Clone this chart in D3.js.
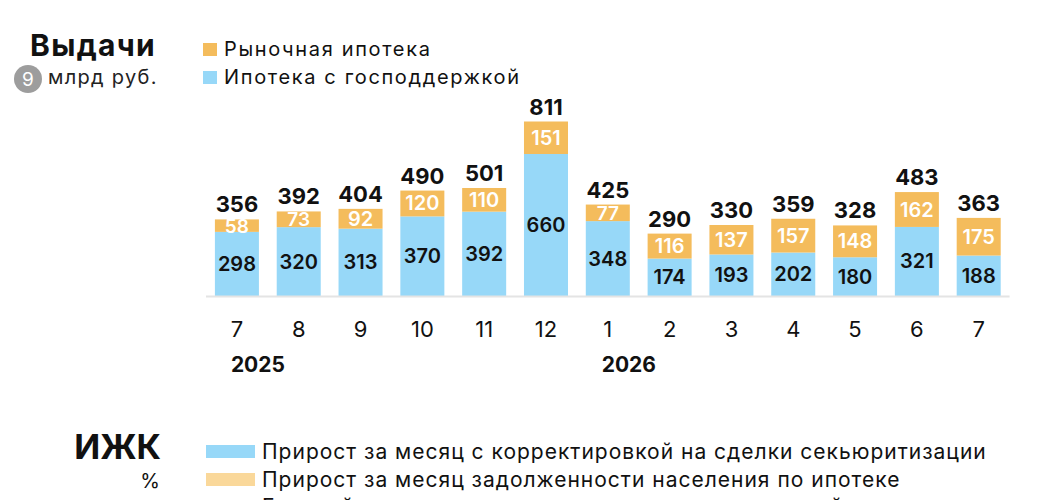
<!DOCTYPE html>
<html>
<head>
<meta charset="utf-8">
<script src="https://cdn.jsdelivr.net/npm/d3@7"></script>
<style>
  body { margin: 0; background: #fff; }
  svg { font-family: Inter, "Noto Sans", sans-serif; }
</style>
</head>
<body>
<div class="viz"></div>
<script>
// months of the issuance chart (Jul 2025 - Jul 2026)
const months = ["7", "8", "9", "10", "11", "12", "1", "2", "3", "4", "5", "6", "7"];
const years = [{ label: "2025", at: 0 }, { label: "2026", at: 6 }];
const subsidized = [298, 320, 313, 370, 392, 660, 348, 174, 193, 202, 180, 321, 188]; // ипотека с господдержкой
const market = [58, 73, 92, 120, 110, 151, 77, 116, 137, 157, 148, 162, 175];         // рыночная ипотека
const totals = [356, 392, 404, 490, 501, 811, 425, 290, 330, 359, 328, 483, 363];

const blue = "#97d8f8";
const orange = "#f4bc5c";
const lightOrange = "#fad89a";

const width = 1050, height = 500;
const baseY = 296;

const svg = d3.select(".viz").append("svg")
  .attr("width", width)
  .attr("height", height);

const keys = months.map((m, i) => i); // months repeat ("7"), so index is the key
const rows = keys.map(i => ({ i, subsidized: subsidized[i], market: market[i] }));
const series = d3.stack().keys(["subsidized", "market"])(rows);

const x = d3.scaleBand()
  .domain(keys)
  .range([206, 1009.6])
  .paddingInner(0.288)
  .paddingOuter(0.144);

const y = d3.scaleLinear()
  .domain([0, d3.max(totals)])
  .range([baseY, 121.5]);

const colors = { subsidized: blue, market: orange };

// bars
svg.append("g").attr("class", "bars")
  .selectAll("g")
  .data(series)
  .join("g")
  .attr("fill", s => colors[s.key])
  .selectAll("rect")
  .data(s => s)
  .join("rect")
  .attr("x", d => x(d.data.i))
  .attr("y", d => y(d[1]))
  .attr("width", x.bandwidth())
  .attr("height", d => y(d[0]) - y(d[1]));

// baseline
svg.append("line")
  .attr("x1", x.range()[0]).attr("x2", x.range()[1])
  .attr("y1", baseY + 0.5).attr("y2", baseY + 0.5)
  .attr("stroke", "#e4e4e4").attr("stroke-width", 2);

// value labels inside segments
svg.append("g").attr("class", "seg-labels")
  .selectAll("g")
  .data(series)
  .join("g")
  .attr("fill", s => s.key === "market" ? "#fff" : "#111")
  .selectAll("text")
  .data(s => s)
  .join("text")
  .attr("x", d => x(d.data.i) + x.bandwidth() / 2)
  .attr("y", d => (y(d[0]) + y(d[1])) / 2 + 7)
  .attr("text-anchor", "middle")
  .attr("font-size", d => d[1] - d[0] < 80 ? 19 : 20)
  .attr("font-weight", 600)
  .text(d => d[1] - d[0]);

// totals on top
svg.append("g").attr("class", "totals")
  .selectAll("text")
  .data(keys)
  .join("text")
  .attr("x", i => x(i) + x.bandwidth() / 2)
  .attr("y", i => y(subsidized[i] + market[i]) - 7)
  .attr("text-anchor", "middle")
  .attr("font-size", 22)
  .attr("font-weight", 700)
  .attr("fill", "#111")
  .text(i => totals[i]);

// month axis
const xAxis = svg.append("g")
  .attr("transform", `translate(0, ${baseY})`)
  .call(d3.axisBottom(x).tickSize(0).tickPadding(25).tickFormat(i => months[i]));
xAxis.select(".domain").remove();
xAxis.selectAll("text")
  .attr("font-size", 22)
  .attr("font-family", "Inter, sans-serif")
  .attr("fill", "#111");

// years
svg.append("g").selectAll("text")
  .data(years)
  .join("text")
  .attr("x", d => x(d.at) + x.bandwidth() / 2 + 21)
  .attr("y", 372)
  .attr("text-anchor", "middle")
  .attr("font-size", 21)
  .attr("font-weight", 700)
  .attr("fill", "#111")
  .text(d => d.label);

// title block
svg.append("text")
  .attr("x", 30).attr("y", 56)
  .attr("font-size", 30).attr("font-weight", 700).attr("fill", "#111")
  .attr("letter-spacing", 1.3)
  .text("Выдачи");
svg.append("circle").attr("cx", 28).attr("cy", 79).attr("r", 14).attr("fill", "#9d9d9d");
svg.append("text")
  .attr("x", 28).attr("y", 86)
  .attr("text-anchor", "middle")
  .attr("font-size", 19).attr("fill", "#fff")
  .text("9");
svg.append("text")
  .attr("x", 48).attr("y", 84)
  .attr("font-size", 20).attr("fill", "#222")
  .attr("letter-spacing", 1.3)
  .text("млрд руб.");

// top legend
const legend = [
  { label: "Рыночная ипотека", color: orange, y: 56 },
  { label: "Ипотека с господдержкой", color: blue, y: 84 }
];
const lg = svg.append("g").selectAll("g").data(legend).join("g");
lg.append("rect")
  .attr("x", 203).attr("y", d => d.y - 13)
  .attr("width", 14).attr("height", 13)
  .attr("fill", d => d.color);
lg.append("text")
  .attr("x", 224).attr("y", d => d.y)
  .attr("font-size", 20).attr("fill", "#111")
  .attr("letter-spacing", 1.65)
  .text(d => d.label);

// lower block (ИЖК), cut by the frame
svg.append("text")
  .attr("x", 161).attr("y", 459)
  .attr("text-anchor", "end")
  .attr("font-size", 34).attr("font-weight", 700).attr("fill", "#111")
  .text("ИЖК");
svg.append("text")
  .attr("x", 160).attr("y", 488)
  .attr("text-anchor", "end")
  .attr("font-size", 20).attr("fill", "#111")
  .text("%");

const legend2 = [
  { label: "Прирост за месяц с корректировкой на сделки секьюритизации", color: blue, y: 459 },
  { label: "Прирост за месяц задолженности населения по ипотеке", color: lightOrange, y: 487 },
  { label: "Годовой прирост задолженности с корректировкой", color: null, y: 514 }
];
const lg2 = svg.append("g").selectAll("g").data(legend2).join("g");
lg2.filter(d => d.color).append("rect")
  .attr("x", 206).attr("y", d => d.y - 14)
  .attr("width", 49).attr("height", 13)
  .attr("fill", d => d.color);
lg2.append("text")
  .attr("x", 262).attr("y", d => d.y)
  .attr("font-size", 21).attr("fill", "#111")
  .attr("letter-spacing", 1)
  .text(d => d.label);
</script>
</body>
</html>
